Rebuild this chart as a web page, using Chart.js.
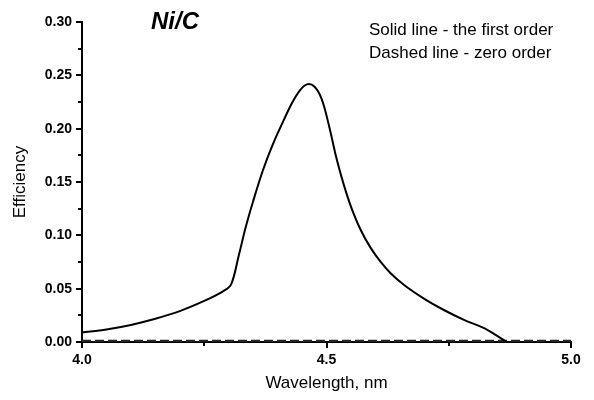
<!DOCTYPE html>
<html>
<head>
<meta charset="utf-8">
<script src="https://cdn.jsdelivr.net/npm/chart.js@4.4.1/dist/chart.umd.min.js"></script>
<style>
html,body{margin:0;padding:0;background:#fff;}
#wrap{width:594px;height:400px;position:relative;}
</style>
</head>
<body>
<div id="wrap"><canvas id="c" width="594" height="400"></canvas></div>
<script>
// Wavelength (nm) and efficiency
const firstOrderX = [4.00,4.05,4.10,4.15,4.20,4.25,4.29,4.305,4.32,4.335,4.35,4.37,4.39,4.41,4.43,4.445,4.46,4.475,4.49,4.505,4.52,4.535,4.55,4.57,4.59,4.61,4.63,4.66,4.70,4.74,4.78,4.82,4.845,4.868];
const firstOrderY = [0.0090,0.0118,0.0160,0.0218,0.0290,0.0385,0.0480,0.0540,0.0800,0.1080,0.1320,0.1610,0.1850,0.2055,0.2245,0.2355,0.2415,0.2395,0.2280,0.2030,0.1730,0.1480,0.1270,0.1050,0.0885,0.0755,0.0650,0.0530,0.0405,0.0300,0.0210,0.0135,0.0070,0.0000];
const zeroOrderX = [4.0, 5.0];
const zeroOrderY = [0.001, 0.001];
const xTickLabels = ['4.0','4.5','5.0'];
const yTickLabels = ['0.00','0.05','0.10','0.15','0.20','0.25','0.30'];
const titleText = 'Ni/C';
const noteLines = ['Solid line - the first order','Dashed line - zero order'];
const xTitle = 'Wavelength, nm';
const yTitle = 'Efficiency';

const toPts = (xs, ys) => xs.map((x, i) => ({x, y: ys[i]}));

const majorX = xTickLabels.map(Number);
const majorY = yTickLabels.map(Number);
const isMajor = (v, arr) => arr.some(m => Math.abs(m - v) < 1e-6);
const FONT = '"Liberation Sans", Arial, sans-serif';

const tickPlugin = {
  id: 'ticksAndText',
  afterDraw(chart) {
    const ctx = chart.ctx;
    const xs = chart.scales.x, ys = chart.scales.y;
    const area = chart.chartArea;
    ctx.save();
    ctx.strokeStyle = '#000';
    ctx.lineWidth = 2;
    xs.ticks.forEach(t => {
      const px = Math.round(xs.getPixelForValue(t.value));
      const len = isMajor(t.value, majorX) ? 6 : 4;
      ctx.beginPath();
      ctx.moveTo(px, area.bottom);
      ctx.lineTo(px, area.bottom + len);
      ctx.stroke();
    });
    ys.ticks.forEach(t => {
      const py = Math.round(ys.getPixelForValue(t.value));
      const len = isMajor(t.value, majorY) ? 6 : 4;
      ctx.beginPath();
      ctx.moveTo(area.left, py);
      ctx.lineTo(area.left - len, py);
      ctx.stroke();
    });
    ctx.fillStyle = '#000';
    ctx.textBaseline = 'alphabetic';
    ctx.textAlign = 'left';
    ctx.font = 'italic bold 24px ' + FONT;
    ctx.fillText(titleText, 151, 29);
    ctx.font = '17px ' + FONT;
    ctx.fillText(noteLines[0], 369, 35);
    ctx.fillText(noteLines[1], 369, 58);
    ctx.restore();
  }
};

new Chart(document.getElementById('c'), {
  type: 'line',
  data: {
    datasets: [
      {
        label: 'first order',
        data: toPts(firstOrderX, firstOrderY),
        borderColor: '#000',
        borderWidth: 2,
        pointRadius: 0,
        fill: false,
        tension: 0.35
      },
      {
        label: 'zero order',
        data: toPts(zeroOrderX, zeroOrderY),
        borderColor: '#222',
        borderWidth: 2.5,
        borderDash: [9, 4],
        pointRadius: 0,
        fill: false
      }
    ]
  },
  options: {
    responsive: false,
    animation: false,
    events: [],
    layout: { padding: { top: 22, right: 23, left: 0, bottom: 0 } },
    plugins: { legend: { display: false }, tooltip: { enabled: false } },
    scales: {
      x: {
        type: 'linear',
        min: 4, max: 5,
        afterFit(s) { s.height = 58; },
        border: { display: true, color: '#000', width: 2 },
        grid: { display: true, drawOnChartArea: false, drawTicks: false, color: 'rgba(0,0,0,0)' },
        ticks: {
          stepSize: 0.25,
          padding: 10,
          color: '#000',
          font: { family: FONT, size: 14, weight: 'bold' },
          maxRotation: 0,
          autoSkip: false,
          callback(v) { const i = majorX.findIndex(m => Math.abs(m - v) < 1e-6); return i >= 0 ? xTickLabels[i] : ''; }
        },
        title: {
          display: true, text: xTitle, color: '#000',
          font: { family: FONT, size: 17 },
          padding: { top: 0, bottom: 6 }
        }
      },
      y: {
        type: 'linear',
        min: 0, max: 0.3,
        afterFit(s) { s.width = 82; },
        border: { display: true, color: '#000', width: 2 },
        grid: { display: true, drawOnChartArea: false, drawTicks: false, color: 'rgba(0,0,0,0)' },
        ticks: {
          stepSize: 0.025,
          padding: 10,
          color: '#000',
          font: { family: FONT, size: 14, weight: 'bold' },
          autoSkip: false,
          callback(v) { const i = majorY.findIndex(m => Math.abs(m - v) < 1e-6); return i >= 0 ? yTickLabels[i] : ''; }
        },
        title: {
          display: true, text: yTitle, color: '#000',
          font: { family: FONT, size: 17 },
          padding: { top: 10, bottom: 0 }
        }
      }
    }
  },
  plugins: [tickPlugin]
});
</script>
</body>
</html>
